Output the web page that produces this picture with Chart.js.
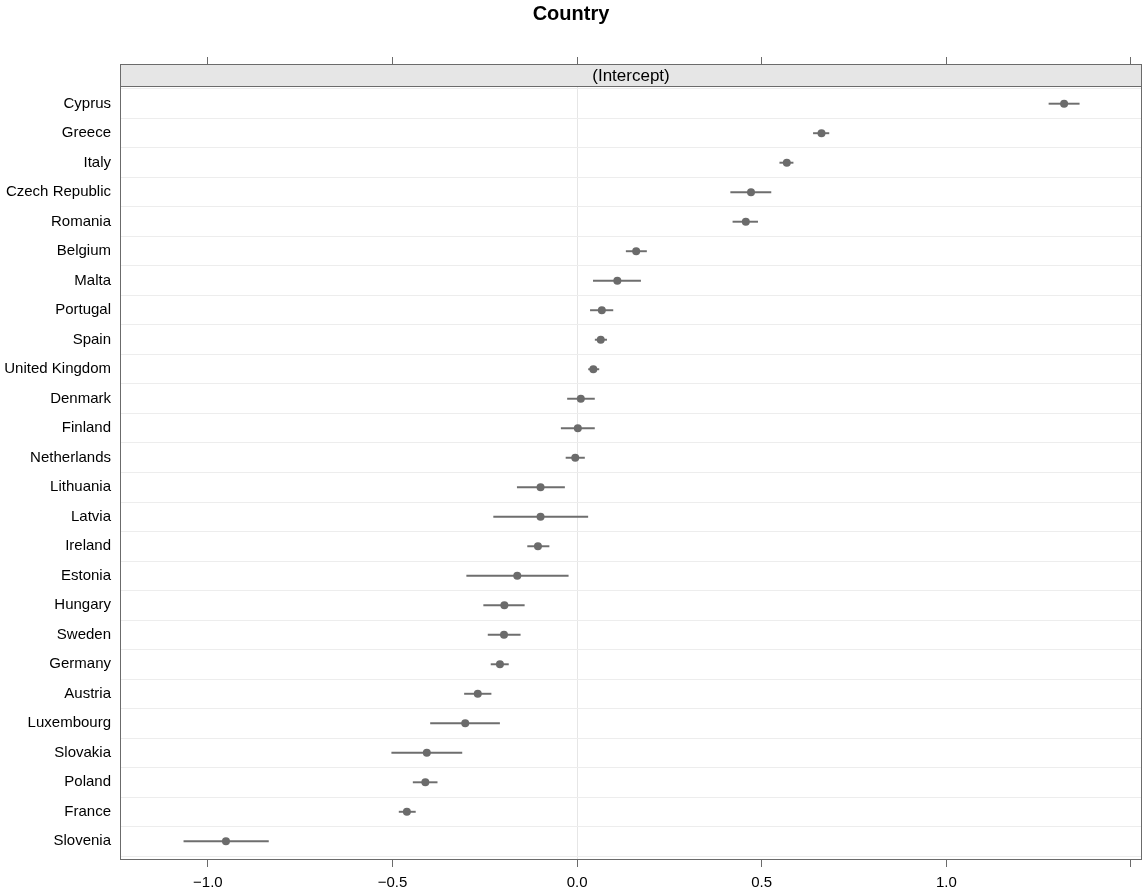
<!DOCTYPE html>
<html>
<head>
<meta charset="utf-8">
<script src="https://cdn.jsdelivr.net/npm/chart.js@4.4.1/dist/chart.umd.min.js"></script>
<style>
  html, body { margin: 0; padding: 0; background: #fff; overflow: hidden; }
  #wrap { width: 1143px; height: 895px; }
</style>
</head>
<body>
<div id="wrap"><canvas id="chart"></canvas></div>
<script>
// random intercepts by country, top row first
const countries = ['Cyprus', 'Greece', 'Italy', 'Czech Republic', 'Romania', 'Belgium', 'Malta',
  'Portugal', 'Spain', 'United Kingdom', 'Denmark', 'Finland', 'Netherlands', 'Lithuania',
  'Latvia', 'Ireland', 'Estonia', 'Hungary', 'Sweden', 'Germany', 'Austria', 'Luxembourg',
  'Slovakia', 'Poland', 'France', 'Slovenia'];
const estimate = [1.319, 0.662, 0.568, 0.471, 0.457, 0.160, 0.109, 0.067, 0.064, 0.044, 0.010,
  0.002, -0.005, -0.099, -0.099, -0.106, -0.162, -0.197, -0.198, -0.209, -0.269, -0.303,
  -0.407, -0.411, -0.461, -0.951];
const lower = [1.278, 0.640, 0.549, 0.416, 0.422, 0.133, 0.044, 0.036, 0.049, 0.031, -0.026,
  -0.043, -0.030, -0.162, -0.226, -0.134, -0.299, -0.253, -0.241, -0.233, -0.305, -0.397,
  -0.502, -0.444, -0.482, -1.065];
const upper = [1.360, 0.682, 0.585, 0.525, 0.489, 0.188, 0.172, 0.097, 0.080, 0.059, 0.047,
  0.047, 0.020, -0.034, 0.029, -0.076, -0.024, -0.143, -0.154, -0.186, -0.233, -0.210,
  -0.312, -0.379, -0.438, -0.836];
const xTicks = [-1.0, -0.5, 0.0, 0.5, 1.0, 1.5];
const xLabelled = [-1.0, -0.5, 0.0, 0.5, 1.0];

const xMin = -1.238;
const xMax = 1.530;
const font = 'Liberation Sans, Arial, sans-serif';
const frameColor = '#6b6b6b';

function fmt(v) {
  const s = Math.abs(v).toFixed(1);
  return v < 0 ? '\u2212' + s : s;
}

// lattice style strip and panel box
const stripPlugin = {
  id: 'strip',
  afterDraw(chart) {
    const { ctx, chartArea: a } = chart;
    const l = Math.round(a.left) + 0.5;
    const r = Math.round(a.right) - 0.5;
    const t = Math.round(a.top) - 22 + 0.5;
    const m = Math.round(a.top) + 0.5;
    const b = Math.round(a.bottom) + 0.5;
    ctx.save();
    ctx.fillStyle = '#e6e6e6';
    ctx.fillRect(l, t, r - l, m - t);
    ctx.strokeStyle = frameColor;
    ctx.lineWidth = 1;
    ctx.strokeRect(l, t, r - l, b - t);
    ctx.beginPath();
    ctx.moveTo(l, m);
    ctx.lineTo(r, m);
    ctx.stroke();
    ctx.fillStyle = '#000';
    ctx.font = '17px ' + font;
    ctx.textAlign = 'center';
    ctx.textBaseline = 'middle';
    ctx.fillText('(Intercept)', (l + r) / 2, (t + m) / 2 + 1);
    ctx.restore();
  }
};

function noSidePadding(axis) {
  axis.paddingLeft = 0;
  axis.paddingRight = 0;
}

new Chart(document.getElementById('chart'), {
  type: 'scatter',
  data: {
    datasets: [
      {
        type: 'bar',
        indexAxis: 'y',
        data: countries.map((c, i) => ({ y: i, x: [lower[i], upper[i]] })),
        backgroundColor: '#6e6e6e',
        borderWidth: 0,
        barThickness: 1.3,
        xAxisID: 'x',
        yAxisID: 'y',
        order: 2
      },
      {
        type: 'scatter',
        data: countries.map((c, i) => ({ x: estimate[i], y: i })),
        backgroundColor: '#6b6b6b',
        borderColor: '#6b6b6b',
        pointRadius: 4,
        pointBorderWidth: 0,
        xAxisID: 'x',
        yAxisID: 'y',
        order: 1
      }
    ]
  },
  options: {
    responsive: true,
    maintainAspectRatio: false,
    animation: false,
    layout: { autoPadding: false, padding: { left: 0, right: 1, top: 0, bottom: 0 } },
    scales: {
      x: {
        type: 'linear',
        position: 'bottom',
        min: xMin,
        max: xMax,
        afterBuildTicks: axis => { axis.ticks = xTicks.map(v => ({ value: v })); },
        afterFit: axis => { axis.height = 36; noSidePadding(axis); },
        border: { display: false },
        grid: {
          color: ctx => (ctx.tick && ctx.tick.value === 0 ? '#e6e6e6' : 'rgba(0,0,0,0)'),
          tickColor: frameColor,
          tickLength: 8,
          lineWidth: 1
        },
        ticks: {
          autoSkip: false,
          maxRotation: 0,
          padding: 7,
          color: '#000',
          font: { family: font, size: 15 },
          callback: v => (xLabelled.includes(v) ? fmt(v) : '')
        }
      },
      x2: {
        type: 'linear',
        position: 'top',
        min: xMin,
        max: xMax,
        afterBuildTicks: axis => { axis.ticks = xTicks.map(v => ({ value: v })); },
        afterFit: axis => { axis.height = 60; noSidePadding(axis); },
        border: { display: false },
        grid: {
          drawOnChartArea: false,
          tickColor: frameColor,
          tickLength: 29
        },
        ticks: { display: false }
      },
      y: {
        type: 'linear',
        reverse: true,
        min: -0.6,
        max: countries.length - 0.4,
        offset: false,
        afterBuildTicks: axis => { axis.ticks = countries.map((c, i) => ({ value: i })); },
        afterFit: axis => { axis.width = 120; },
        border: { display: false },
        grid: {
          color: '#ededed',
          lineWidth: 1,
          drawTicks: false
        },
        ticks: {
          autoSkip: false,
          padding: 9,
          color: '#000',
          font: { family: font, size: 15 },
          callback: v => countries[v]
        }
      }
    },
    plugins: {
      legend: { display: false },
      tooltip: { enabled: false },
      title: {
        display: true,
        text: 'Country',
        color: '#000',
        font: { family: font, size: 20, weight: 'bold' },
        padding: { top: 2, bottom: 0 }
      }
    }
  },
  plugins: [stripPlugin]
});
</script>
</body>
</html>
